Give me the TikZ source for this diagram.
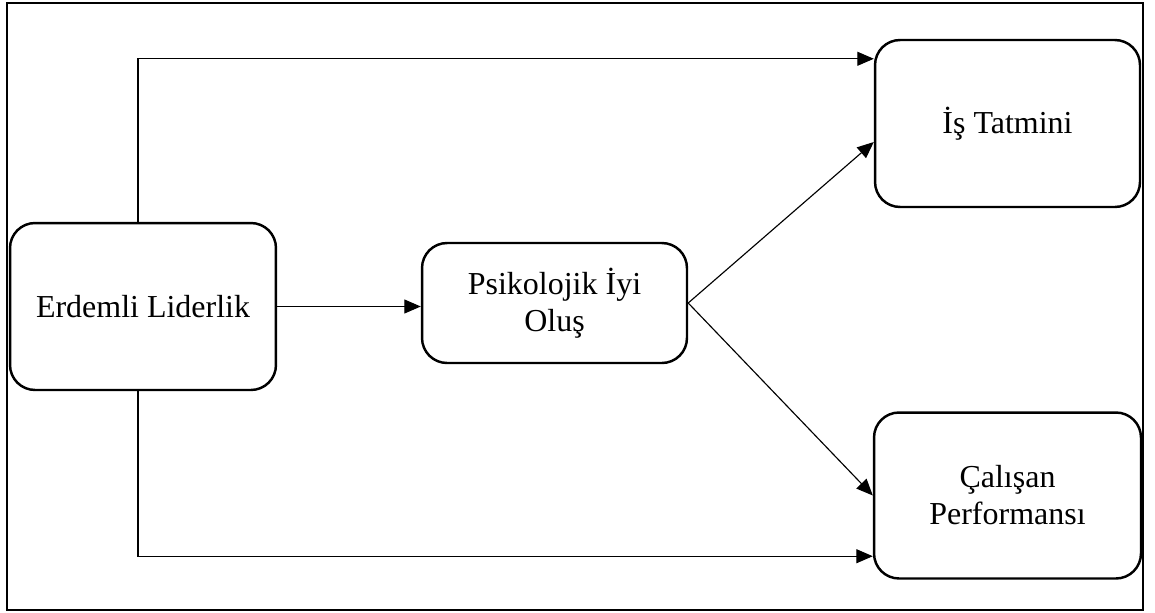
\documentclass[tikz,border=0pt]{standalone}
\usepackage{fontspec}
\setmainfont{Liberation Serif}
\usetikzlibrary{arrows.meta,calc}
\tikzset{
  box/.style={draw, line width=1.4pt, rounded corners=0.5cm, align=center, inner sep=2pt,
    font=\fontsize{18.2}{21}\selectfont},
  arr/.style={line width=0.65pt, -{Triangle[length=0.33cm,width=0.28cm]}},
  frame/.style={draw, line width=1.1pt}
}
\begin{document}
\begin{tikzpicture}[x=0.02cm,y=-0.02cm]
\useasboundingbox (0,0) rectangle (1155,612);
\draw[frame] (7,3) rectangle (1143,610);
\node[box, minimum width=5.32cm, minimum height=3.34cm] (E) at (143,306.5) {Erdemli Liderlik};
\node[box, minimum width=5.3cm, minimum height=2.4cm] (P) at (554.5,303) {Psikolojik İyi\\Oluş};
\node[box, minimum width=5.3cm, minimum height=3.34cm] (I) at (1007.5,123.5) {İş Tatmini};
\node[box, minimum width=5.34cm, minimum height=3.32cm] (C) at (1007.5,495.5) {Çalışan\\Performansı};
\draw[arr] (E.east) -- (E.east -| P.west);
\draw[arr] ([xshift=-0.1cm]E.north) |- ([yshift=-0.4cm]I.north west);
\draw[arr] ([xshift=-0.1cm]E.south) |- ([yshift=0.47cm]C.south west);
\draw[arr] (P.east) -- ([yshift=-0.37cm]I.west);
\draw[arr] (P.east) -- (C.west);
\end{tikzpicture}
\end{document}
